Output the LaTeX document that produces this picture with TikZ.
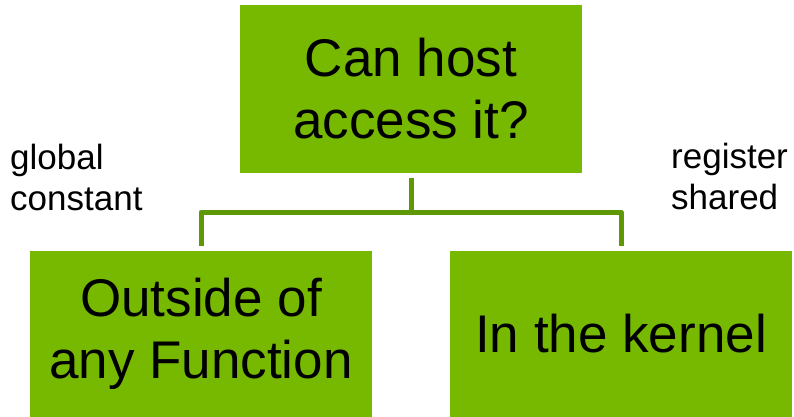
\documentclass[tikz,border=0pt]{standalone}
\usepackage{fontspec}
\setmainfont{Liberation Sans}
\usepackage{xcolor}
\definecolor{nvgreen}{RGB}{118,185,0}
\definecolor{branchgreen}{RGB}{95,152,5}

\begin{document}
\begin{tikzpicture}[
    x=1pt, y=-1pt,
    box/.style={fill=nvgreen, minimum width=342pt, align=center, inner sep=0pt,
      font=\fontsize{53}{62}\selectfont},
    side label/.style={align=left, anchor=west, inner sep=0pt,
      font=\fontsize{35}{41}\selectfont},
    branch/.style={draw=branchgreen, line width=5pt, line join=round}
    ]
\useasboundingbox (0,0) rectangle (794,416);
\node[box, minimum height=168pt] (host) at (411,89) {Can host\\access it?};
\node[box, minimum height=166pt] (outside) at (201,334) {Outside of\\any Function};
\node[box, minimum height=166pt] (kernel) at (621,334) {In the kernel};
\node[side label] (globconst) at (10,177) {global\\constant};
\node[side label] (regshared) at (671,176) {register\\shared};
\coordinate (split) at (411,212);
\draw[branch, shorten <=5pt] (host.south) -- (split);
\draw[branch, shorten <=5pt, shorten >=5pt] (outside.north) |- (split) -| (kernel.north);
\end{tikzpicture}
\end{document}
